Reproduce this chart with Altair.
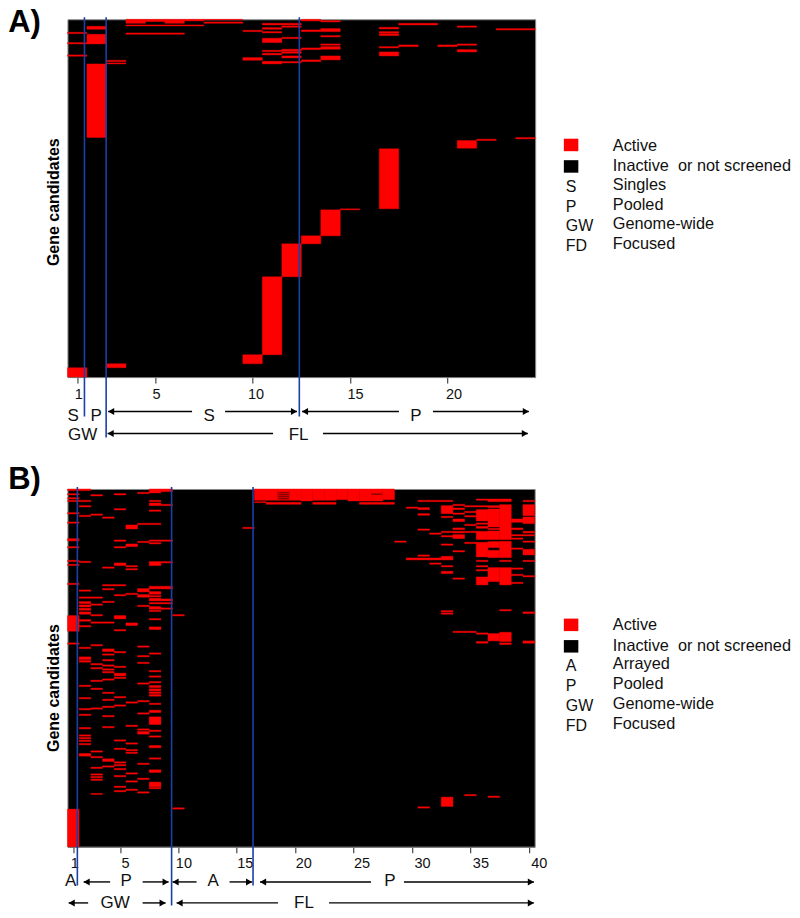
import altair as alt
import pandas as pd

FONT = "Liberation Sans"
RED = "#ff0000"
BLUE = "#1c3fa8"

# Activity runs per screen (column); (start, end) gene-rank positions.
A_RUNS = {
    1: [(97,101),(128,132),(165,169),(1104,1132)],
    2: [(79,88),(103,132),(192,413)],
    3: [(181,185),(189,192),(1092,1104)],
    4: [(58,70),(75,78),(99,103)],
    5: [(58,65),(75,78),(99,103)],
    6: [(58,70),(75,78),(99,103)],
    7: [(58,63),(75,78)],
    8: [(58,60),(66,70)],
    9: [(58,60),(66,70)],
    10: [(91,95),(173,181),(1065,1092)],
    11: [(70,75),(83,88),(95,99),(115,128),(151,155),(160,165),(184,192),(831,1065)],
    12: [(70,75),(78,82),(112,116),(148,153),(155,160),(168,174),(185,189),(732,831)],
    13: [(58,63),(90,95),(144,149),(180,185),(708,732)],
    14: [(62,66),(86,95),(107,111),(132,136),(140,148),(168,180),(630,708)],
    15: [(627,630)],
    17: [(82,87),(95,100),(102,107),(140,144),(156,168),(447,627)],
    18: [(70,75),(135,140)],
    19: [(70,75)],
    20: [(135,140)],
    21: [(78,82),(132,136),(149,156),(422,445)],
    22: [(418,422)],
    23: [(86,90)],
    24: [(86,90),(413,417)],
}
B_RUNS = {
    1: [(28,33),(42,46),(54,58),(62,66),(99,103),(127,131),(177,184),(201,205),(242,246),(254,258),(311,315),(408,455),(490,494),(989,1102)],
    2: [(28,33),(62,66),(78,82),(107,111),(245,249),(331,335),(352,356),(366,372),(376,382),(386,392),(397,404),(420,425),(438,442),(503,507),(532,540),(543,548),(617,621),(654,658),(687,691),(704,708),(744,748),(766,770),(774,778),(782,786),(792,796),(822,830)],
    3: [(45,49),(103,107),(352,356),(373,377),(405,409),(427,431),(495,499),(552,556),(564,568),(602,606),(626,630),(685,689),(814,818),(831,835),(863,867),(883,887),(891,895),(899,903),(942,945)],
    4: [(112,116),(262,266),(315,319),(327,331),(365,369),(427,431),(508,516),(523,527),(540,544),(556,560),(568,572),(576,580),(598,602),(638,642),(659,663),(680,684),(708,712),(741,745),(838,846),(859,863)],
    5: [(42,46),(87,91),(181,185),(201,205),(250,258),(315,319),(345,349),(408,418),(450,454),(516,520),(560,564),(581,589),(593,597),(651,655),(676,680),(781,785),(806,810),(847,851),(855,859),(867,871),(888,892),(920,924),(933,937)],
    6: [(136,148),(193,201),(258,262),(267,271),(341,345),(430,438),(667,671),(737,741),(790,794),(810,814),(818,822),(880,884),(904,908),(929,933)],
    7: [(38,42),(131,135),(185,189),(327,337),(345,353),(377,381),(499,503),(528,532),(548,552),(610,614),(663,667),(700,704),(748,752),(756,764),(851,855),(896,900),(937,941)],
    8: [(28,40),(62,66),(70,78),(91,95),(131,135),(181,185),(189,193),(246,258),(320,328),(336,344),(348,352),(356,364),(369,373),(381,389),(392,396),(417,421),(442,450),(520,524),(573,577),(589,593),(606,610),(618,624),(628,634),(637,642),(645,650),(671,675),(692,699),(712,735),(752,756),(769,773),(798,805),(835,839),(871,879),(908,922),(924,928)],
    9: [(28,36),(74,78),(181,185),(246,250),(320,328),(358,364),(369,373),(385,389)],
    10: [(405,409),(985,989)],
    16: [(143,147)],
    17: [(28,62),(66,69)],
    18: [(28,62),(68,74)],
    19: [(28,38),(41,44),(47,50),(53,56),(59,62),(68,74)],
    20: [(28,62),(68,74)],
    21: [(28,64)],
    22: [(28,62),(68,74)],
    23: [(28,62),(68,74)],
    24: [(28,60)],
    25: [(28,64)],
    26: [(28,64),(68,74)],
    27: [(28,42),(45,64),(68,74)],
    28: [(28,60),(68,74)],
    29: [(184,188)],
    30: [(82,86),(235,241)],
    31: [(62,66),(84,90),(102,107),(148,152),(226,230),(235,241),(982,986)],
    32: [(62,66),(160,164),(235,241),(250,254)],
    33: [(62,66),(78,102),(110,114),(155,159),(168,172),(193,197),(230,241),(258,262),(275,282),(393,397),(400,404),(953,981)],
    34: [(74,78),(85,90),(100,104),(118,126),(145,150),(155,160),(165,177),(213,217),(295,299),(455,459)],
    35: [(78,82),(95,99),(108,112),(134,138),(155,159),(188,192),(455,459),(945,949)],
    36: [(58,62),(78,82),(90,124),(130,134),(140,146),(155,180),(188,232),(242,246),(258,262),(270,274),(292,316),(460,464),(486,491)],
    37: [(58,66),(78,84),(88,142),(146,150),(154,180),(186,204),(212,234),(264,306),(462,484),(950,954)],
    38: [(58,66),(75,180),(185,234),(242,246),(264,316),(390,394),(458,486),(490,495)],
    39: [(118,128),(145,150),(165,169),(175,179),(205,209),(265,269),(284,288),(308,312)],
    40: [(62,66),(75,108),(112,132),(155,160),(165,169),(184,188),(209,226),(242,246),(288,292),(397,402),(484,491)],
}
A_OFFSET, B_OFFSET = 58, 28
A_TICKS = [1, 5, 10, 15, 20]
B_TICKS = [1, 5, 10, 15, 20, 25, 30, 35, 40]
Y_TITLE = "Gene candidates"

# Annotation positions, page pixels
A_BLUE = [(84.3, 417), (106, 438), (299.3, 417)]
B_BLUE = [(77.2, 886), (171.5, 906), (253, 886)]
A_ARROWS = [(108,192,412,"l"),(225,297,412,"r"),(302,399,412,"l"),(433,529,412,"r"),
            (107.5,273,434,"l"),(323,528,434,"r")]
B_ARROWS = [(83.5,110,882.5,"l"),(142.5,168.5,882.5,"r"),(172.5,196.5,882.5,"l"),(229.5,252,882.5,"r"),
            (260,371,882.5,"l"),(404,534,882.5,"r"),
            (68.5,88,903.5,"l"),(142.5,165.5,903.5,"r"),(176.5,278,903.5,"l"),(329,534,903.5,"r")]
A_LETTERS = [("S",73,416),("P",96,416),("S",209,416),("P",416,416),("GW",82.5,435.5),("FL",298.6,435.5)]
B_LETTERS = [("A",70.5,882),("P",126,882),("A",213,882),("P",390,882),("GW",115,904),("FL",304,904)]
A_LEGEND = [("Active",146),("Inactive\u00a0 or not screened",166),("Singles",185),("Pooled",205),("Genome-wide",224),("Focused",244)]
A_KEYS = [("S",187),("P",207),("GW",226),("FD",246)]
B_LEGEND = [("Active",625),("Inactive\u00a0 or not screened",646),("Arrayed",664),("Pooled",684),("Genome-wide",704),("Focused",724)]
B_KEYS = [("A",666),("P",686),("GW",706),("FD",726)]


def panel(runs, offset, ncol, w, left, top, ticks, blue, arrows, letters, legend, keys, tag, tagy, swy, laboff, titley):
    cw = w / ncol
    h = 358
    fx = lambda p: (p - left) / cw + 0.5
    fy = lambda p: (p - top) * 3
    xs = alt.Scale(domain=[0.5, ncol + 0.5], nice=False, zero=False)
    ys = alt.Scale(domain=[0, h * 3], reverse=True, nice=False, zero=False)
    df = pd.DataFrame([
        {"a": c - 0.5, "b": c + 0.5, "s": s - offset, "e": min(e - offset, h * 3)}
        for c, rr in runs.items() for s, e in rr
    ])
    base = alt.Chart(df).mark_rect(color=RED, stroke=RED, strokeWidth=0.4).encode(
        x=alt.X("a:Q", scale=xs, axis=alt.Axis(
            values=ticks, title=None, grid=False, domainColor="#777", tickColor="#222", tickSize=6,
            labelFont=FONT, labelFontSize=14.5, labelColor="#111", labelPadding=4, labelAngle=0, labelFlush=False,
            labelOverlap=False, labelOffset=alt.expr(laboff), format="d")),
        x2="b:Q",
        y=alt.Y("s:Q", scale=ys, axis=alt.Axis(
            title=Y_TITLE, labels=False, ticks=False, domain=False, grid=False,
            titleFont=FONT, titleFontSize=16, titleFontWeight="bold", titleColor="#000",
            titleX=52 - left + 9, titleY=titley - top)),
        y2="e:Q",
    )
    blue_df = pd.DataFrame([{"x": fx(x), "y": fy(top - 2), "y2": fy(b)} for x, b in blue])
    blue_l = alt.Chart(blue_df).mark_rule(color=BLUE, strokeWidth=1.6).encode(x="x:Q", y="y:Q", y2="y2:Q")
    seg = pd.DataFrame([{"x": fx(a), "x2": fx(b), "y": fy(y)} for a, b, y, _ in arrows])
    seg_l = alt.Chart(seg).mark_rule(color="#000", strokeWidth=1.4).encode(x="x:Q", x2="x2:Q", y="y:Q")
    head = pd.DataFrame([{"x": fx(a + 3 if d == "l" else b - 3), "y": fy(y),
                          "shape": "triangle-left" if d == "l" else "triangle-right"} for a, b, y, d in arrows])
    head_l = alt.Chart(head).mark_point(filled=True, color="#000", size=50, opacity=1).encode(
        x="x:Q", y="y:Q", shape=alt.Shape("shape:N", scale=None))
    let = pd.DataFrame([{"x": fx(x), "y": fy(y), "t": t} for t, x, y in letters])
    let_l = alt.Chart(let).mark_text(font=FONT, fontSize=17, color="#111", align="center", baseline="middle").encode(
        x="x:Q", y="y:Q", text="t:N")
    leg = pd.DataFrame([{"x": fx(613), "y": fy(y), "t": t} for t, y in legend])
    leg_l = alt.Chart(leg).mark_text(font=FONT, fontSize=16.3, color="#111", align="left", baseline="middle").encode(
        x="x:Q", y="y:Q", text="t:N")
    key = pd.DataFrame([{"x": fx(566), "y": fy(y), "t": t} for t, y in keys])
    key_l = alt.Chart(key).mark_text(font=FONT, fontSize=16, color="#111", align="left", baseline="middle").encode(
        x="x:Q", y="y:Q", text="t:N")
    sw = pd.DataFrame([{"x": fx(564), "x2": fx(578.5), "y": fy(a), "y2": fy(a + 12.5), "c": c}
                       for a, c in zip(swy, [RED, "#000000"])])
    sw_l = alt.Chart(sw).mark_rect().encode(
        x="x:Q", x2="x2:Q", y="y:Q", y2="y2:Q", color=alt.Color("c:N", scale=None))
    tag_df = pd.DataFrame([{"x": fx(8), "y": fy(tagy), "t": tag}])
    tag_l = alt.Chart(tag_df).mark_text(font=FONT, fontSize=31, fontWeight="bold", color="#000", align="left",
                                        baseline="alphabetic").encode(x="x:Q", y="y:Q", text="t:N")
    return alt.layer(base, blue_l, seg_l, head_l, let_l, leg_l, key_l, sw_l, tag_l).properties(
        width=w, height=h, view=alt.ViewConfig(fill="#000", stroke="#888", strokeWidth=1))


a = panel(A_RUNS, A_OFFSET, 24, 468, 67.3, 19.5, A_TICKS, A_BLUE, A_ARROWS, A_LETTERS, A_LEGEND, A_KEYS,
          "A)", 32, (139, 160.5), "datum.value<10?1:(datum.value<15?3:(datum.value<20?5:6))", 202)
b = panel(B_RUNS, B_OFFSET, 40, 467.5, 67.3, 489.3, B_TICKS, B_BLUE, B_ARROWS, B_LETTERS, B_LEGEND, B_KEYS,
          "B)", 489, (619, 640.5), "datum.value<5?1:(datum.value<15?5:(datum.value<30?8:10))", 688)

chart = alt.vconcat(a, b, spacing=112, bounds="flush").properties(
    padding=alt.Padding(top=-2, left=-0.5, right=0, bottom=0)).resolve_scale(
    x="independent", y="independent", color="independent", shape="independent")
chart.save("out.html", embed_options={"renderer": "svg", "actions": False})
